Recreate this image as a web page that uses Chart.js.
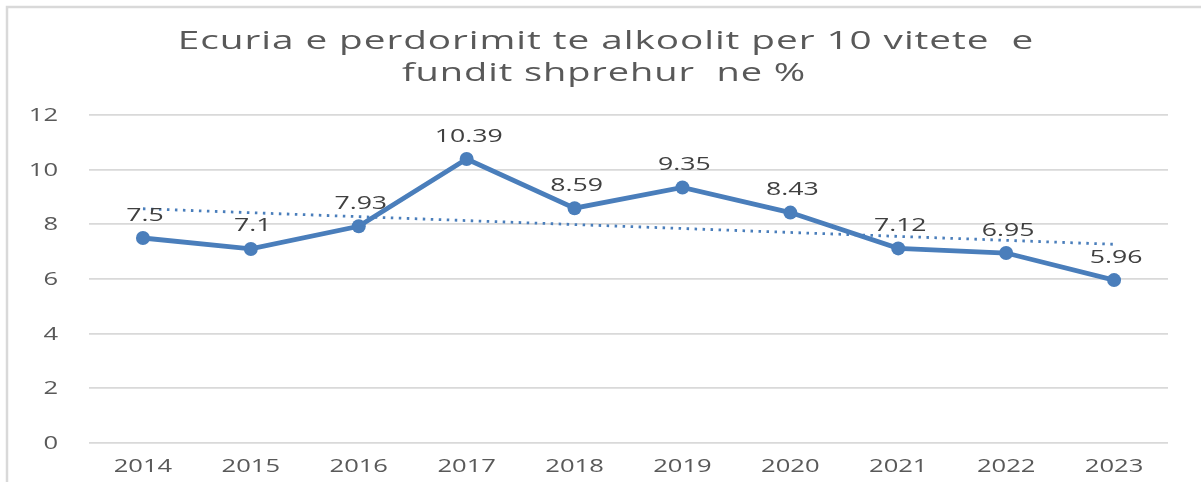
<!DOCTYPE html>
<html>
<head>
<meta charset="utf-8">
<script src="https://cdn.jsdelivr.net/npm/chart.js@4"></script>
<style>
  html, body { margin: 0; padding: 0; background: #ffffff; }
  #wrap { width: 1201px; height: 482px; }
</style>
</head>
<body>
<div id="wrap"><canvas id="alcoholChart"></canvas></div>
<script>
// Data
const years = ['2014', '2015', '2016', '2017', '2018', '2019', '2020', '2021', '2022', '2023'];
const usage = [7.5, 7.1, 7.93, 10.39, 8.59, 9.35, 8.43, 7.12, 6.95, 5.96];
const trendStart = 8.57;   // dotted trend line, first year
const trendEnd = 7.27;     // dotted trend line, last year
const yTicks = [0, 2, 4, 6, 8, 10, 12];
const titleLines = ['Ecuria e perdorimit te alkoolit per 10 vitete  e', 'fundit shprehur  ne %'];

const blue = '#4a7ebb';
const textGray = '#595959';
const FONT = '"Open Sans"';

// trend line: only its two ends are set, the library joins them
const trend = years.map(function (y, i) {
    if (i === 0) return trendStart;
    if (i === years.length - 1) return trendEnd;
    return null;
});

// the source picture is stretched sideways, so text is widened the same way
function wideText(ctx, text, x, y, stretch, align) {
    ctx.save();
    ctx.translate(x, y);
    ctx.scale(stretch, 1);
    ctx.textAlign = align;
    ctx.textBaseline = 'alphabetic';
    ctx.fillText(text, 0, 0);
    ctx.restore();
}

// outer frame like the cropped Excel chart border
const framePlugin = {
    id: 'frame',
    beforeDraw: function (chart) {
        const ctx = chart.ctx;
        ctx.save();
        ctx.strokeStyle = '#d9d9d9';
        ctx.lineWidth = 2.5;
        ctx.beginPath();
        ctx.moveTo(7, chart.height);
        ctx.lineTo(7, 7);
        ctx.lineTo(chart.width, 7);
        ctx.stroke();
        ctx.restore();
    }
};

// title, axis labels and value labels
const textPlugin = {
    id: 'texts',
    afterDraw: function (chart) {
        const ctx = chart.ctx;
        const xs = chart.scales.x;
        const ys = chart.scales.y;

        ctx.save();
        ctx.fillStyle = textGray;
        ctx.font = '25px ' + FONT;
        ctx.letterSpacing = '0.6px';
        wideText(ctx, titleLines[0], 606, 49, 1.55, 'center');
        wideText(ctx, titleLines[1], 604, 81, 1.52, 'center');
        ctx.letterSpacing = '0px';

        ctx.font = '18px ' + FONT;
        yTicks.forEach(function (v) {
            wideText(ctx, String(v), 58, ys.getPixelForValue(v) + 6, 1.42, 'right');
        });
        years.forEach(function (y, i) {
            wideText(ctx, y, xs.getPixelForValue(i), 472, 1.42, 'center');
        });

        ctx.fillStyle = '#404040';
        const meta = chart.getDatasetMeta(0);
        meta.data.forEach(function (pt, i) {
            wideText(ctx, String(usage[i]), pt.x + 2, pt.y - 17.5, 1.48, 'center');
        });
        ctx.restore();
    }
};

new Chart(document.getElementById('alcoholChart'), {
    type: 'line',
    data: {
        labels: years,
        datasets: [{
            label: 'Perdorimi i alkoolit (%)',
            data: usage,
            borderColor: blue,
            backgroundColor: blue,
            borderWidth: 4.8,
            pointRadius: 7,
            pointHoverRadius: 7,
            pointBackgroundColor: blue,
            pointBorderWidth: 0,
            tension: 0
        }, {
            label: 'Trend',
            data: trend,
            spanGaps: true,
            borderColor: blue,
            borderWidth: 2.8,
            borderDash: [2.5, 5.5],
            pointRadius: 0,
            tension: 0
        }]
    },
    options: {
        responsive: true,
        maintainAspectRatio: false,
        animation: false,
        layout: {
            padding: { left: 8, right: 33, top: 115, bottom: 0 }
        },
        plugins: {
            legend: { display: false },
            tooltip: { enabled: false },
            title: { display: false }
        },
        scales: {
            x: {
                offset: true,
                grid: { display: false },
                border: { display: false },
                ticks: { display: false },
                afterFit: function (scale) { scale.height = 39; }
            },
            y: {
                min: 0,
                max: 12,
                afterBuildTicks: function (scale) {
                    scale.ticks = yTicks.map(function (v) { return { value: v }; });
                },
                afterFit: function (scale) { scale.width = 81; },
                grid: { color: '#d9d9d9', lineWidth: 1.8, drawTicks: false },
                border: { display: false },
                ticks: { display: false }
            }
        }
    },
    plugins: [framePlugin, textPlugin]
});
</script>
</body>
</html>
